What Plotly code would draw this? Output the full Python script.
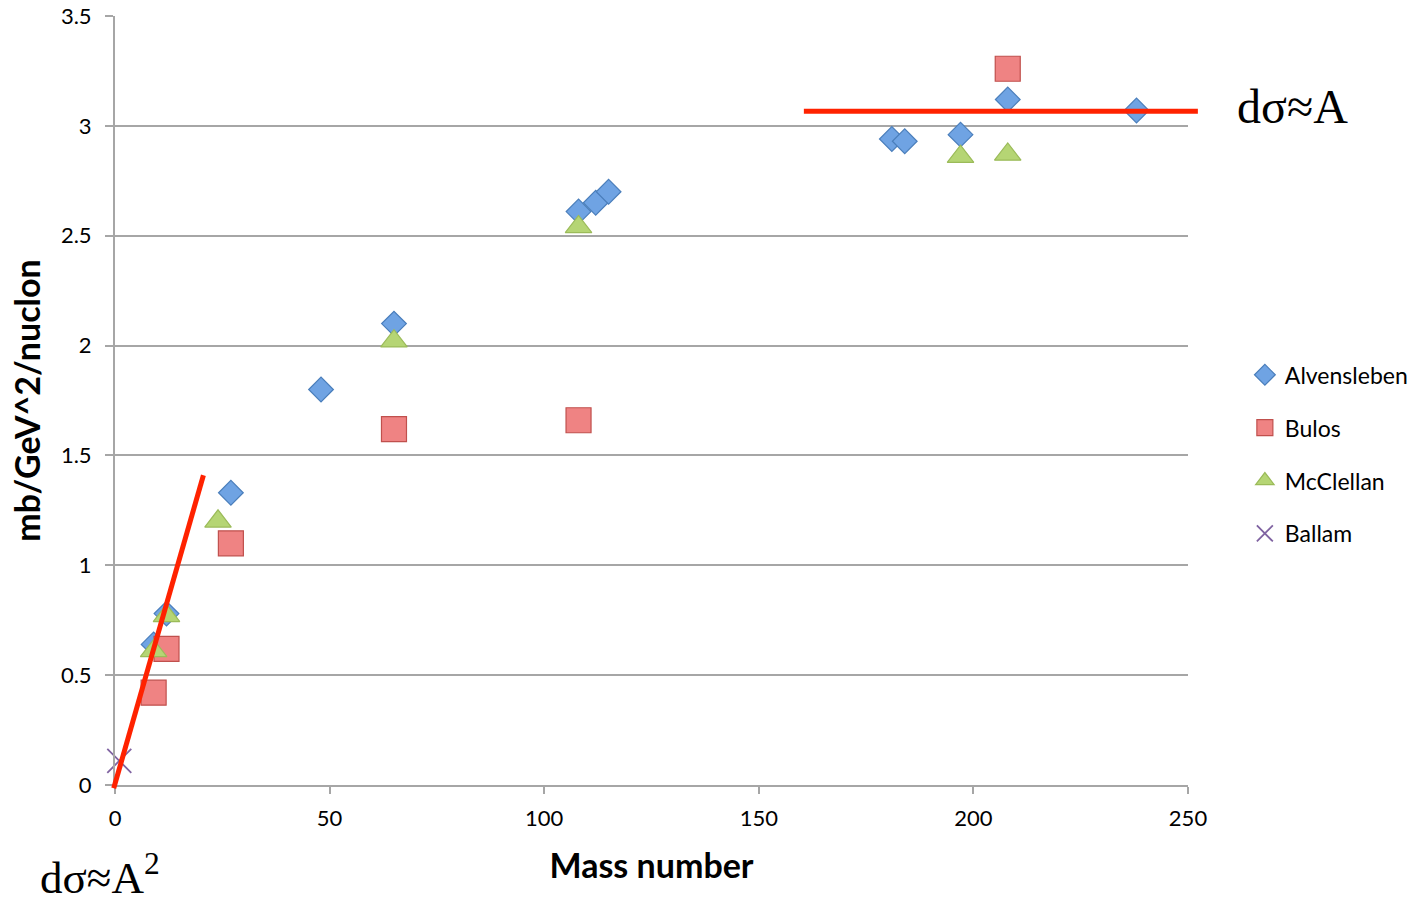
import plotly.graph_objects as go

# ---- data ----
alv_A = [9, 12, 27, 48, 65, 108, 112, 115, 181, 184, 197, 208, 238]
alv_y = [0.64, 0.78, 1.33, 1.80, 2.10, 2.61, 2.65, 2.70, 2.94, 2.93, 2.96, 3.12, 3.07]

bul_A = [9, 12, 27, 65, 108, 208]
bul_y = [0.42, 0.62, 1.10, 1.62, 1.66, 3.26]

mcc_A = [9, 12, 24, 65, 108, 197, 208]
mcc_y = [0.61, 0.77, 1.20, 2.02, 2.54, 2.86, 2.87]

bal_A = [1]
bal_y = [0.11]

# guide lines (data coords)
steep_x = [-0.3, 20.6]
steep_y = [-0.015, 1.41]
flat_x = [160.5, 252.3]
flat_y = [3.066, 3.066]

x_range = [0, 250]
y_range = [0, 3.5]
x_ticks = [0, 50, 100, 150, 200, 250]
y_ticks = [0, 0.5, 1, 1.5, 2, 2.5, 3, 3.5]

FONT = "Lato"


def px_(v):  # data -> paper fraction along x (through the axis range)
    return (v - x_range[0]) / (x_range[1] - x_range[0])


def py_(v):
    return (v - y_range[0]) / (y_range[1] - y_range[0])


fig = go.Figure()

fig.add_trace(go.Scatter(
    x=alv_A, y=alv_y, mode="markers", name="Alvensleben", legendgroup="a",
    marker=dict(symbol="diamond", size=19, color="#6fa3e3",
                line=dict(color="#4a7ebb", width=1.2)),
    cliponaxis=False))
fig.add_trace(go.Scatter(
    x=bul_A, y=bul_y, mode="markers", name="Bulos", legendgroup="b",
    marker=dict(symbol="square", size=25, color="#ef8383",
                line=dict(color="#c0504d", width=1.2)),
    cliponaxis=False))
fig.add_trace(go.Scatter(
    x=mcc_A, y=mcc_y, mode="markers", name="McClellan", legendgroup="c",
    marker=dict(symbol="triangle-up", size=23, color="#b5d574",
                line=dict(color="#9bbb59", width=1.2)),
    cliponaxis=False))
fig.add_trace(go.Scatter(
    x=bal_A, y=bal_y, mode="markers", name="Ballam", legendgroup="d",
    marker=dict(symbol="x-thin", size=24, color="#8064a2",
                line=dict(color="#8064a2", width=1.8)),
    cliponaxis=False))

fig.add_shape(type="line", xref="paper", yref="paper",
              x0=px_(steep_x[0]), y0=py_(steep_y[0]), x1=px_(steep_x[1]), y1=py_(steep_y[1]),
              line=dict(color="#ff2200", width=5))
fig.add_shape(type="line", xref="paper", yref="paper",
              x0=px_(flat_x[0]), y0=py_(flat_y[0]), x1=px_(flat_x[1]), y1=py_(flat_y[1]),
              line=dict(color="#ff2200", width=5))

fig.add_annotation(text="dσ≈A", xref="paper", yref="paper", x=1.044, y=0.882,
                   xanchor="left", yanchor="middle", showarrow=False,
                   font=dict(family="Liberation Serif", size=48, color="black"))
fig.add_annotation(text="dσ≈A<sup>2</sup>", xref="paper", yref="paper", x=-0.072, y=-0.117,
                   xanchor="left", yanchor="middle", showarrow=False,
                   font=dict(family="Liberation Serif", size=45, color="black"))

fig.update_layout(
    width=1422, height=905,
    margin=dict(l=115, r=234, t=16, b=120, autoexpand=False),
    paper_bgcolor="white", plot_bgcolor="white",
    font=dict(family=FONT, size=22, color="black"),
    showlegend=True,
    legend=dict(x=1.053, y=0.43, xanchor="left", yanchor="middle",
                traceorder="grouped", tracegroupgap=20,
                font=dict(family=FONT, size=23), itemwidth=30,
                bgcolor="rgba(0,0,0,0)"),
    xaxis=dict(range=x_range, tickvals=x_ticks, showgrid=False, zeroline=False,
               automargin=False,
               showline=True, linecolor="#a6a6a6", linewidth=2,
               ticks="outside", ticklen=7, tickcolor="#a6a6a6", tickwidth=2,
               tickfont=dict(size=22), ticklabelstandoff=6,
               title=dict(text="<b>Mass number</b>", font=dict(size=34), standoff=24)),
    yaxis=dict(range=y_range, tickvals=y_ticks, showgrid=True, gridcolor="#a6a6a6",
               automargin=False,
               gridwidth=2, zeroline=False, showline=True, linecolor="#a6a6a6", linewidth=2,
               ticks="outside", ticklen=8, tickcolor="#a6a6a6", tickwidth=2,
               tickfont=dict(size=22), ticklabelstandoff=9,
               title=dict(text="<b>mb/GeV^2/nuclon</b>", font=dict(size=34), standoff=10)),
)

fig.write_html("out.html", config={"displayModeBar": False},
               post_script="document.body.style.margin='0';")
